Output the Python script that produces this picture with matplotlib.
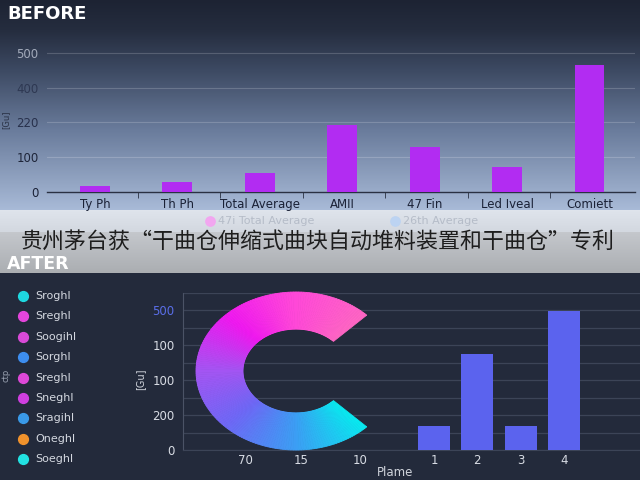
import numpy as np
import matplotlib
matplotlib.use("Agg")
import matplotlib.pyplot as plt
from matplotlib.colors import to_rgb

plt.rcParams['font.family'] = ['DejaVu Sans', 'Noto Sans CJK SC']

# ---------------- data ----------------
before_categories = ["Ty Ph", "Th Ph", "Total Average", "AMII", "47 Fin", "Led Iveal", "Comiett"]
before_values = [17, 29, 55, 194, 130, 72, 365]
before_tick_vals = [0, 100, 200, 300, 400]
before_tick_labels = ["0", "100", "220", "400", "500"]
before_legend = ["47i Total Average", "26th Average"]

title_text = "贵州茅台获“干曲仓伸缩式曲块自动堆料装置和干曲仓”专利"

after_legend_labels = ["Sroghl", "Sreghl", "Soogihl", "Sorghl", "Sreghl",
                       "Sneghl", "Sragihl", "Oneghl", "Soeghl"]
after_legend_colors = ["#1ed8e0", "#e445dc", "#d94ad8", "#3d8ef0", "#dd48d8",
                       "#cf3fe0", "#3a9ae8", "#f0922c", "#22e2e2"]
after_bar_labels = ["1", "2", "3", "4"]
after_bar_values = [68, 275, 68, 397]
after_donut_labels = ["70", "15", "10"]
after_tick_vals = [0, 100, 200, 300, 400]
after_tick_labels = ["0", "200", "100", "100", "500"]
donut_arc_deg = 270

# ---------------- figure & background ----------------
fig = plt.figure(figsize=(6.4, 4.8), dpi=100)
bg = fig.add_axes([0, 0, 1, 1], zorder=-10)
H, W = 480, 640
img = np.zeros((H, W, 3))

def grad(stops, y0, y1):
    ys = np.array([s[0] for s in stops], float)
    cols = np.array([to_rgb(s[1]) for s in stops])
    yy = np.arange(y0, y1)
    return np.stack([np.interp(yy, ys, cols[:, k]) for k in range(3)], axis=1)

img[0:210] = grad([(0, "#1d2333"), (30, "#252d3f"), (70, "#3d4a63"),
                   (130, "#6a7c9c"), (209, "#a8bad7")], 0, 210)[:, None, :]
img[210:232] = grad([(210, "#dfe4ec"), (231, "#d3d8e0")], 210, 232)[:, None, :]
img[232:273] = grad([(232, "#c4c7cc"), (272, "#abaeb2")], 232, 273)[:, None, :]
img[273:480] = np.array(to_rgb("#232a3b"))
bg.imshow(img, extent=[0, W, H, 0], aspect="auto", interpolation="bilinear")
bg.set_xlim(0, W)
bg.set_ylim(H, 0)
bg.axis("off")

bg.text(7, 14, "BEFORE", color="white", fontsize=13, fontweight="bold", va="center", ha="left")
bg.text(7, 264, "AFTER", color="white", fontsize=12.5, fontweight="bold", va="center", ha="left")
bg.text(318, 242, title_text, family=["Noto Sans CJK SC"], fontsize=15.8,
        color="#1e1e1e", ha="center", va="center")

# top legend
for lab, col, x in zip(before_legend, ["#f2a6f0", "#bcd3f2"], [210, 395]):
    bg.scatter([x], [221], s=45, color=col, zorder=3)
    bg.text(x + 8, 221, lab, color="#b5bcc8", fontsize=8, va="center", ha="left")

# bottom legend
for i, (lab, col) in enumerate(zip(after_legend_labels, after_legend_colors)):
    y = 296 + i * 20.4
    bg.scatter([23], [y], s=50, color=col, zorder=3)
    bg.text(35, y, lab, color="#d4d8e0", fontsize=8, va="center", ha="left")

bg.text(6, 120, "[Gu]", color="#2a3246", fontsize=6, rotation=90, va="center", ha="center")
bg.text(6, 375, "ctp", color="#9aa2b2", fontsize=6, rotation=90, va="center", ha="center")

# ---------------- BEFORE bar chart ----------------
ax1 = fig.add_axes([47 / 640, (480 - 192) / 480, 588 / 640, 147 / 480])
ax1.patch.set_alpha(0)
xs = np.arange(len(before_categories))
ax1.bar(xs, before_values, width=0.36, color="#b22cf2", zorder=3)
ax1.set_xlim(-0.58, 6.55)
ax1.set_ylim(0, 423)
ax1.set_yticks(before_tick_vals)
ax1.set_yticklabels(before_tick_labels)
ax1.set_xticks(xs)
ax1.set_xticklabels(before_categories)
ax1.set_xticks(xs[:-1] + 0.52, minor=True)
ax1.grid(axis="y", color="white", alpha=0.18, linewidth=0.8)
for s in ["top", "right", "left"]:
    ax1.spines[s].set_visible(False)
ax1.spines["bottom"].set_color("#2a3142")
ax1.spines["bottom"].set_linewidth(1.0)
ax1.tick_params(axis="y", length=0, pad=6, labelsize=8.5)
ax1.tick_params(axis="x", which="major", length=0, pad=4, labelsize=8.5, labelcolor="#1a2136")
ax1.tick_params(axis="x", which="minor", length=4, color="#2a3142")
ycols = ["#1a2136", "#1e2539", "#28314c", "#2e3852", "#a3abbb"]
for t, c in zip(ax1.get_yticklabels(), ycols):
    t.set_color(c)

# ---------------- AFTER bar chart ----------------
ax2 = fig.add_axes([183 / 640, 30 / 480, 457 / 640, 157 / 480])
ax2.patch.set_alpha(0)
bx = np.arange(1, len(after_bar_values) + 1)
ax2.bar(bx, after_bar_values, width=0.74, color="#5b63ee", zorder=3)
donut_x = [-3.36, -2.07, -0.71]
ax2.set_xlim(-4.8, 5.76)
ax2.set_ylim(0, 450)
ax2.set_xticks(list(donut_x) + list(bx))
ax2.set_xticklabels(after_donut_labels + after_bar_labels)
ax2.set_yticks(after_tick_vals)
ax2.set_yticklabels(after_tick_labels)
ax2.set_yticks(np.arange(0, 451, 50), minor=True)
ax2.grid(axis="y", which="both", color="#3c4457", linewidth=0.9)
for s in ["top", "right"]:
    ax2.spines[s].set_visible(False)
ax2.spines["left"].set_color("#4b5366")
ax2.spines["bottom"].set_color("#3c4457")
ax2.tick_params(axis="both", which="both", length=0)
ax2.tick_params(axis="y", pad=6, labelsize=8.5, labelcolor="#d8dce4")
ax2.tick_params(axis="x", pad=3, labelsize=8.5, labelcolor="#d8dce4")
ax2.get_yticklabels()[-1].set_color("#5a6ee8")
ax2.set_xlabel("Plame", color="#d0d4dc", fontsize=8.5, labelpad=1)
ax2.xaxis.set_label_coords((395 - 183) / 457, -0.105)
ax2.xaxis.label.set_va("top")
ax2.set_ylabel("[Gu]", color="#d0d4dc", fontsize=7, labelpad=2)
ax2.yaxis.set_label_coords(-(183 - 145) / 457, 0.45)

# ---------------- donut ----------------
ax3 = fig.add_axes([196 / 640, 30 / 480, 200 / 640, 158 / 480], zorder=5)
ax3.patch.set_alpha(0)
n = 180
stops = [(45, "#ff66c4"), (95, "#ff45da"), (135, "#f018f0"), (180, "#a455f3"),
         (225, "#6e68f6"), (270, "#3c9ef4"), (315, "#08eaf0")]
cmap_ang = np.array([s[0] for s in stops], float)
cmap_col = np.array([to_rgb(s[1]) for s in stops])
mid = 45 + (np.arange(n) + 0.5) * donut_arc_deg / n
cols = [tuple(np.interp(a, cmap_ang, cmap_col[:, k]) for k in range(3)) for a in mid]
vals = [donut_arc_deg / n] * n + [360 - donut_arc_deg]
wedges, _ = ax3.pie(vals, startangle=45, counterclock=True, radius=1,
                    colors=cols + [(0, 0, 0, 0)],
                    wedgeprops=dict(width=0.47, linewidth=0.6))
for w, c in zip(wedges, cols + [(0, 0, 0, 0)]):
    w.set_edgecolor(c)
ax3.set_aspect("auto")
ax3.set_xlim(-1, 1)
ax3.set_ylim(-1, 1)
ax3.axis("off")

fig.savefig("out.png", dpi=100)
